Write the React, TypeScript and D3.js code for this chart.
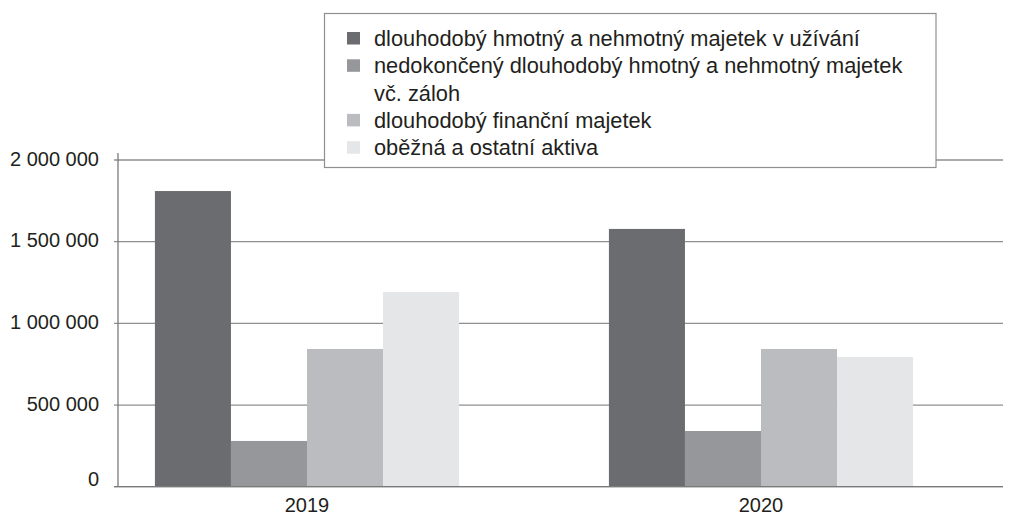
import React from "react";
import * as d3 from "d3";

const categories = ["2019", "2020"];
const seriesNames = [
  "dlouhodobý hmotný a nehmotný majetek v užívání",
  "nedokončený dlouhodobý hmotný a nehmotný majetek vč. záloh",
  "dlouhodobý finanční majetek",
  "oběžná a ostatní aktiva",
];
const legendLines = [
  ["dlouhodobý hmotný a nehmotný majetek v užívání"],
  ["nedokončený dlouhodobý hmotný a nehmotný majetek", "vč. záloh"],
  ["dlouhodobý finanční majetek"],
  ["oběžná a ostatní aktiva"],
];
const values2019 = [1810000, 280000, 843000, 1192000];
const values2020 = [1578000, 341000, 843000, 794000];
const yTicks = [0, 500000, 1000000, 1500000, 2000000];
const colors = ["#6b6c70", "#96979b", "#bbbcc0", "#e5e6e8"];

const W = 1019;
const H = 515;

export default function App() {
  const values = [values2019, values2020];
  const y = d3.scaleLinear().domain([0, 2000000]).range([486.7, 160]);
  const x0 = d3
    .scaleBand<string>()
    .domain(categories)
    .range([80, 988])
    .paddingInner(0.33)
    .paddingOuter(0.165);
  const x1 = d3
    .scaleBand<number>()
    .domain(d3.range(seriesNames.length))
    .range([0, x0.bandwidth()]);
  const fmt = (v: number) => d3.format(",")(v).replace(/,/g, " ");
  const axisX = 118;
  const right = 1003;
  const font = "'Liberation Sans', Arial, Helvetica, sans-serif";
  const textColor = "#231f20";

  let lineIdx = 0;
  const legendItems = legendLines.map((lines, i) => {
    const start = lineIdx;
    lineIdx += lines.length;
    return { lines, i, start };
  });

  return (
    <svg
      width={W}
      height={H}
      style={{ position: "absolute", left: 0, top: 0, background: "#fff" }}
      fontFamily={font}
    >
      <rect x={0} y={0} width={W} height={H} fill="#fff" />
      {/* gridlines */}
      {yTicks.map((t) => (
        <g key={t}>
          <line
            x1={axisX - 4}
            x2={right}
            y1={y(t)}
            y2={y(t)}
            stroke="#8f8f8f"
            strokeWidth={1.3}
          />
          <text
            x={99}
            y={y(t) + (t === 0 ? -1 : 5.5)}
            textAnchor="end"
            fontSize={20}
            fill={textColor}
          >
            {fmt(t)}
          </text>
        </g>
      ))}
      {/* bars */}
      {categories.map((c, ci) => (
        <g key={c} transform={`translate(${x0(c)},0)`}>
          {values[ci].map((v, si) => (
            <rect
              key={si}
              x={x1(si)}
              width={x1.bandwidth()}
              y={y(v)}
              height={y(0) - y(v)}
              fill={colors[si]}
            />
          ))}
        </g>
      ))}
      {/* y axis line */}
      <line
        x1={axisX}
        x2={axisX}
        y1={153}
        y2={y(0)}
        stroke="#7a7a7a"
        strokeWidth={1.3}
      />
      {/* baseline */}
      <line
        x1={axisX - 4}
        x2={right}
        y1={y(0)}
        y2={y(0)}
        stroke="#7a7a7a"
        strokeWidth={1.3}
      />
      {/* x labels */}
      {categories.map((c) => (
        <text
          key={c}
          x={(x0(c) as number) + x0.bandwidth() / 2}
          y={511.5}
          textAnchor="middle"
          fontSize={20}
          fill={textColor}
        >
          {c}
        </text>
      ))}
      {/* legend */}
      <g>
        <rect
          x={324.5}
          y={13.5}
          width={611.5}
          height={154}
          fill="#fff"
          stroke="#8f8f8f"
          strokeWidth={1.2}
        />
        {legendItems.map(({ lines, i, start }) => (
          <g key={i}>
            <rect
              x={347}
              y={46 + start * 27.3 - 14}
              width={13}
              height={12.5}
              fill={colors[i]}
            />
            {lines.map((ln, li) => (
              <text
                key={li}
                x={374}
                y={46 + (start + li) * 27.3}
                fontSize={21.8}
                fill={textColor}
              >
                {ln}
              </text>
            ))}
          </g>
        ))}
      </g>
    </svg>
  );
}
